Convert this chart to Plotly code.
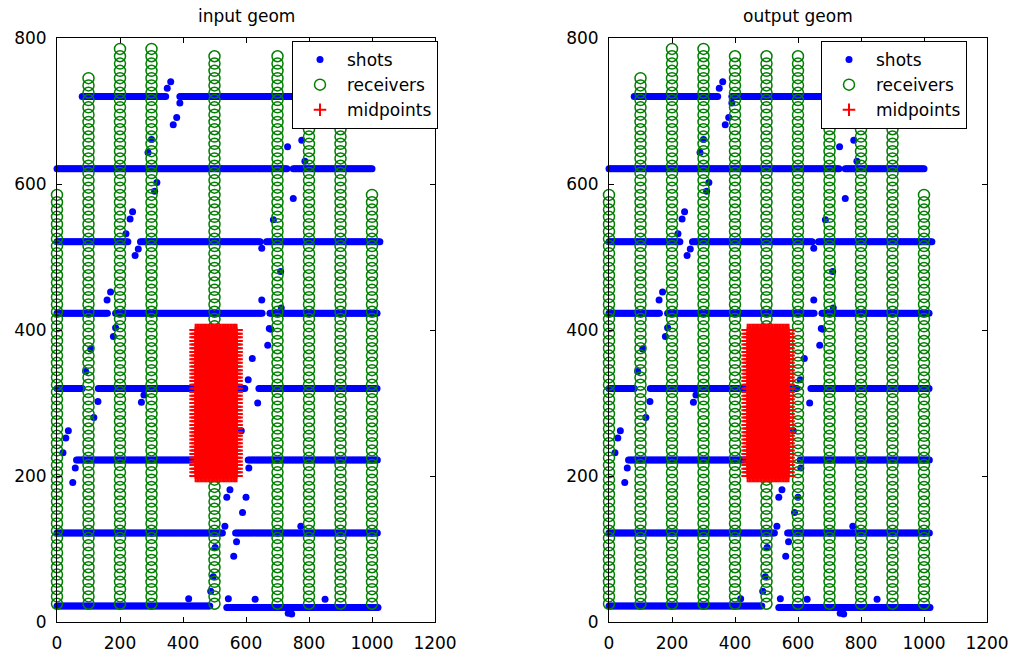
import numpy as np
import plotly.graph_objects as go

# ---------------- data ----------------
# shot lines (segments): y, x start, x end ; shots every 5 m along them
shot_seg_y  = [720, 720, 621, 621, 521, 521, 521, 423, 423, 423, 320, 320, 320, 222, 222, 122, 122, 22, 20]
shot_seg_x0 = [80, 390, 0, 750, 0, 265, 665, 0, 186, 676, 0, 131, 641, 62, 607, 0, 567, 0, 539]
shot_seg_x1 = [348, 1000, 730, 1003, 225, 645, 1025, 163, 652, 1020, 83, 597, 1020, 560, 1020, 525, 1020, 486, 1020]
shot_step = 5

# displaced shots (off the lines)
shot_extra_x = [361, 350, 390, 380, 369, 300, 289, 317, 310, 777, 732, 787, 750, 687,
                240, 232, 219, 258, 248, 650, 159, 170, 650, 674, 179, 186, 107, 91,
                130, 117, 36, 28, 19, 58, 50, 276, 268, 620, 607, 637, 669, 679, 609,
                549, 539, 600, 589, 533, 570, 561, 502, 496, 488, 774, 418, 544, 629,
                745, 734, 851, 710, 712, 585]
shot_extra_y = [740, 731, 711, 691, 681, 661, 643, 602, 590, 660, 651, 631, 580, 551,
                562, 552, 532, 511, 502, 512, 441, 452, 441, 402, 391, 403, 374, 343,
                302, 280, 262, 252, 232, 211, 191, 311, 301, 361, 332, 300, 379, 401, 211,
                181, 171, 171, 150, 131, 110, 90, 102, 62, 42, 131, 32, 32, 31,
                11, 12, 31, 480, 430, 262]

# receiver lines: x, lowest station, highest station ; stations every 10 m
rcv_in_x   = [0, 100, 200, 300, 500, 700, 800, 900, 1000]
rcv_in_top = [585, 745, 785, 785, 775, 775, 775, 775, 585]
rcv_out_x   = [0, 100, 200, 300, 400, 500, 600, 700, 800, 900, 1000]
rcv_out_top = [585, 745, 785, 785, 775, 775, 775, 775, 775, 775, 585]
rcv_bottom = 25
rcv_step = 10

# midpoint bins
mid_x = [440, 445, 450, 455, 460, 465, 470, 475, 480, 485, 490, 495, 500, 505,
         510, 515, 520, 525, 530, 535, 540, 545, 550, 555, 560, 565, 570]
mid_y = [200, 205, 210, 215, 220, 225, 230, 235, 240, 245, 250, 255, 260, 265,
         270, 275, 280, 285, 290, 295, 300, 305, 310, 315, 320, 325, 330, 335,
         340, 345, 350, 355, 360, 365, 370, 375, 380, 385, 390, 395, 400]

titles = ["input geom", "output geom"]
x_ticks = [0, 200, 400, 600, 800, 1000, 1200]
y_ticks = [0, 200, 400, 600, 800]

# ---------------- build point sets ----------------
sx, sy = [], []
for y, a, b in zip(shot_seg_y, shot_seg_x0, shot_seg_x1):
    xs = np.arange(a, b + 1, shot_step)
    sx.extend(xs.tolist()); sy.extend([y] * len(xs))
sx.extend(shot_extra_x); sy.extend(shot_extra_y)

def receivers(xl, tops):
    rx, ry = [], []
    for x, t in zip(xl, tops):
        ys = np.arange(rcv_bottom, t + 1, rcv_step)
        rx.extend([x] * len(ys)); ry.extend(ys.tolist())
    return rx, ry

MX, MY = np.meshgrid(mid_x, mid_y)
mx, my = MX.ravel().tolist(), MY.ravel().tolist()

W, H = 1012, 656
FONT = "DejaVu Sans"
doms_x = [[57 / W, 435 / W], [609 / W, 987 / W]]
dom_y = [(H - 622) / H, (H - 38) / H]
legend_x = [292 / W, 821 / W]

fig = go.Figure()
rcv_sets = [receivers(rcv_in_x, rcv_in_top), receivers(rcv_out_x, rcv_out_top)]
for i in range(2):
    xa = "x" if i == 0 else "x2"
    ya = "y" if i == 0 else "y2"
    lg = "legend" if i == 0 else "legend2"
    fig.add_trace(go.Scatter(x=sx, y=sy, mode="markers", name="shots",
                             marker=dict(color="#0000ff", size=7, line=dict(width=0)),
                             xaxis=xa, yaxis=ya, legend=lg, cliponaxis=False))
    rx, ry = rcv_sets[i]
    fig.add_trace(go.Scatter(x=rx, y=ry, mode="markers", name="receivers",
                             marker=dict(symbol="circle-open", color="#007f00", size=11,
                                         line=dict(width=1.5, color="#007f00")),
                             xaxis=xa, yaxis=ya, legend=lg, cliponaxis=False))
    fig.add_trace(go.Scatter(x=mx, y=my, mode="markers", name="midpoints",
                             marker=dict(symbol="cross-thin-open", color="#ff0000", size=9,
                                         line=dict(width=2, color="#ff0000")),
                             xaxis=xa, yaxis=ya, legend=lg, cliponaxis=False))

axis_common = dict(showline=True, linecolor="black", linewidth=1, mirror="ticks",
                   ticks="inside", ticklen=5, tickcolor="black", showgrid=False,
                   zeroline=False, automargin=False,
                   tickfont=dict(family=FONT, size=17, color="black"))

layout = dict(template="none", width=W, height=H, margin=dict(l=0, r=0, t=0, b=0, pad=0),
              paper_bgcolor="white", plot_bgcolor="white", autosize=False,
              font=dict(family=FONT, color="black"))
for i in range(2):
    sfx = "" if i == 0 else "2"
    layout["xaxis" + sfx] = dict(domain=doms_x[i], range=[0, 1200], tickvals=x_ticks,
                                 anchor="y" + sfx, ticklabelstandoff=6, **axis_common)
    layout["yaxis" + sfx] = dict(domain=dom_y, range=[0, 800], tickvals=y_ticks,
                                 anchor="x" + sfx, ticklabelstandoff=6, **axis_common)
    layout["legend" + sfx] = dict(x=legend_x[i], y=(H - 41) / H, xanchor="left", yanchor="top",
                                  bgcolor="white", bordercolor="black", borderwidth=1,
                                  font=dict(family=FONT, size=17, color="black"),
                                  itemwidth=44, tracegroupgap=0)
fig.update_layout(**layout)

for i in range(2):
    fig.add_annotation(text=titles[i], x=(doms_x[i][0] + doms_x[i][1]) / 2, y=(H - 15.5) / H,
                       xref="paper", yref="paper", xanchor="center", yanchor="middle",
                       showarrow=False, font=dict(family=FONT, size=17, color="black"))

fig.write_html("out.html",
               post_script="document.body.style.margin='0';document.body.style.overflow='hidden';")
